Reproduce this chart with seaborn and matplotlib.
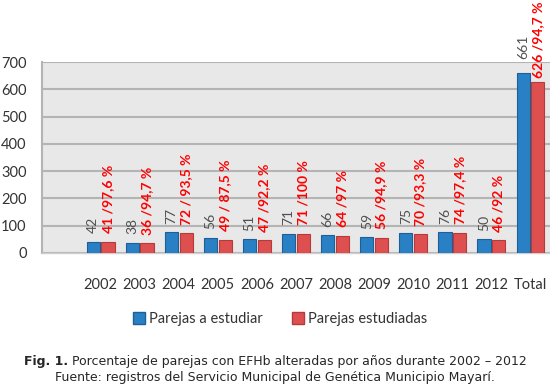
import matplotlib
matplotlib.use("Agg")
import matplotlib.pyplot as plt
import seaborn as sns
import pandas as pd
from matplotlib.patches import Patch

categories = ["2002", "2003", "2004", "2005", "2006", "2007", "2008",
              "2009", "2010", "2011", "2012", "Total"]
a_estudiar = [42, 38, 77, 56, 51, 71, 66, 59, 75, 76, 50, 661]
estudiadas = [41, 36, 72, 49, 47, 71, 64, 56, 70, 74, 46, 626]
labels_estudiadas = ["41 /97,6 %", "36 /94,7 %", "72 / 93,5 %", "49 / 87,5 %",
                     "47 /92,2 %", "71 /100 %", "64 /97 %", "56 /94,9 %",
                     "70 /93,3 %", "74 /97,4 %", "46 /92 %", "626 /94,7 %"]
series = ["Parejas a estudiar", "Parejas estudiadas"]
yticks = [0, 100, 200, 300, 400, 500, 600, 700]

BLUE = "#2a80c4"
RED = "#de5050"
BLUE_EDGE = "#1d5f96"
RED_EDGE = "#b73a3a"

sns.set_style("white")
plt.rcParams["font.family"] = ["Lato", "DejaVu Sans"]

df = pd.DataFrame({
    "cat": categories * 2,
    "val": a_estudiar + estudiadas,
    "serie": [series[0]] * len(categories) + [series[1]] * len(categories),
})

fig = plt.figure(figsize=(5.5, 3.9), dpi=100)
ax = fig.add_axes([42 / 550, 1 - 253 / 390, 1 - 42 / 550, (253 - 62) / 390])
ax.set_facecolor("#e8e8e8")

sns.barplot(data=df, x="cat", y="val", hue="serie", order=categories,
            hue_order=series, palette=[BLUE, RED], saturation=1,
            width=0.75, gap=0.1, linewidth=0.8, legend=False, ax=ax, zorder=3)

for cont, ec in zip(ax.containers, [BLUE_EDGE, RED_EDGE]):
    for p in cont:
        p.set_edgecolor(ec)

anns_blue = ax.bar_label(ax.containers[0], labels=[str(v) for v in a_estudiar],
                         rotation=90, padding=6, fontsize=10, color="#505050")
anns_red = ax.bar_label(ax.containers[1], labels=labels_estudiadas,
                        rotation=90, padding=6, fontsize=10, color="#ff0000",
                        fontweight="bold")
# the tall "Total" labels sit differently (as in the reference)
anns_blue[-1].xyann = (0, 10)
anns_red[-1].xyann = (0, 3)

ax.set_xlim(-1.5, 11.5)
ax.set_ylim(0, 700)
ax.set_yticks(yticks)
ax.set_yticklabels([str(v) for v in yticks])
ax.yaxis.grid(True, color="#b4b4b4", linewidth=1.5, zorder=0)
ax.set_axisbelow(True)
ax.tick_params(axis="both", length=0, labelsize=10.5, colors="#333333")
ax.tick_params(axis="x", pad=18)
ax.tick_params(axis="y", pad=11)
ax.set_xlabel("")
ax.set_ylabel("")
for s in ["top", "right"]:
    ax.spines[s].set_visible(False)
ax.spines["left"].set_color("#b4b4b4")
ax.spines["left"].set_linewidth(1.5)
ax.spines["bottom"].set_color("#d0d0d0")
ax.spines["bottom"].set_linewidth(1.0)

handles = [Patch(facecolor=BLUE, edgecolor=BLUE_EDGE),
           Patch(facecolor=RED, edgecolor=RED_EDGE)]
fig.legend(handles, series, loc="center", bbox_to_anchor=(280 / 550, 1 - 319 / 390),
           ncol=2, frameon=False, fontsize=10.5, handlelength=0.8,
           handleheight=0.8, handletextpad=0.3, columnspacing=2.0,
           labelcolor="#333333")

# Caption
fig.canvas.draw()
r = fig.canvas.get_renderer()
cap_font = ["DejaVu Sans"]
cap_size = 9
t1 = fig.text(0, 1 - 361 / 390, "Fig. 1.", fontsize=cap_size, fontweight="bold",
              family=cap_font, va="center", ha="left")
t2 = fig.text(0, 1 - 361 / 390, " Porcentaje de parejas con EFHb alteradas por años durante 2002 \u2013 2012",
              fontsize=cap_size, family=cap_font, va="center", ha="left")
w1 = t1.get_window_extent(r).width
w2 = t2.get_window_extent(r).width
x0 = (550 - (w1 + w2)) / 2
t1.set_x(x0 / 550)
t2.set_x((x0 + w1) / 550)
fig.text(0.5, 1 - 378 / 390,
         "Fuente: registros del Servicio Municipal de Genética Municipio Mayarí.",
         fontsize=cap_size, family=cap_font, va="center", ha="center")

fig.savefig("out.png", dpi=100)
